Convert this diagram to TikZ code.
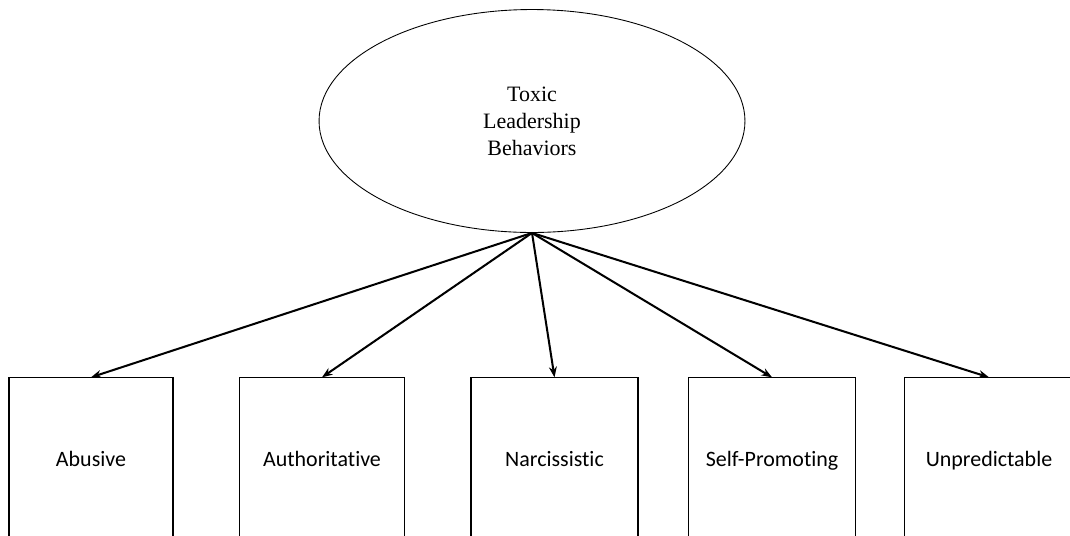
\documentclass[tikz,border=0pt]{standalone}
\usepackage{fontspec}
\setmainfont{Liberation Serif}
\newfontfamily\boxfont[Ligatures={NoCommon}]{Carlito}
\usetikzlibrary{shapes.geometric,arrows.meta}

\begin{document}
\begin{tikzpicture}[x=0.02cm,y=-0.02cm,
  construct/.style={draw,ellipse,line width=0.5pt,inner sep=0pt,
    minimum width=8.52cm,minimum height=4.46cm,align=center,
    font=\fontsize{12.5}{15.3}\selectfont},
  indicator/.style={draw,rectangle,line width=0.6pt,inner sep=0pt,
    anchor=north,minimum height=3.228cm,text height=10pt,text depth=1pt,
    font=\boxfont\fontsize{12.5}{14}\selectfont},
  loading/.style={line width=1.15pt,-{Stealth[length=6pt,width=4.5pt]}}]
  \useasboundingbox (0,0) rectangle (1070,535);
  \clip (0,0) rectangle (1070,535);

  % latent construct
  \node[construct] (toxic) at (532,121) {Toxic\\Leadership\\Behaviors};

  % observed indicators (boxes run past the lower edge)
  \node[indicator,minimum width=3.28cm] (abusive) at (91,377.3) {Abusive};
  \node[indicator,minimum width=3.30cm] (auth)    at (322,377.3) {Authoritative};
  \node[indicator,minimum width=3.34cm] (narc)    at (554.5,377.3) {Narcissistic};
  \node[indicator,minimum width=3.35cm] (selfp)   at (772,377.3) {Self-Promoting};
  \node[indicator,minimum width=3.40cm] (unpred)  at (989,377.3) {Unpredictable};

  % factor loadings
  \foreach \t in {abusive,auth,narc,selfp,unpred}
    \draw[loading] (toxic.south) -- (\t.north);
\end{tikzpicture}
\end{document}
